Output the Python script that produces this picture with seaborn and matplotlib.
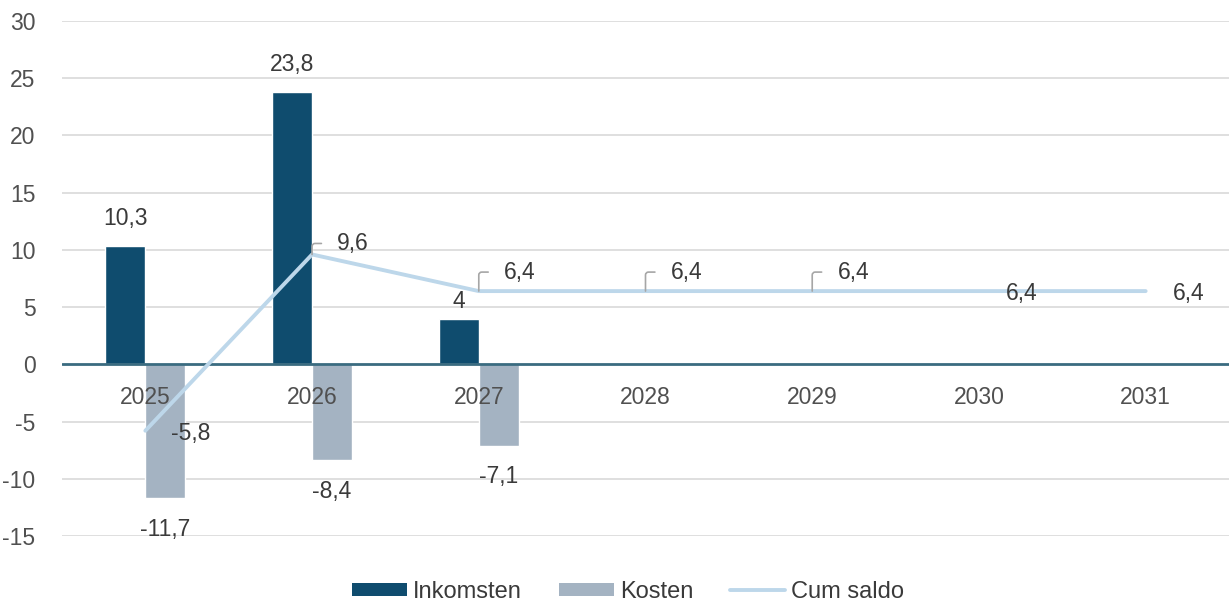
import numpy as np
import pandas as pd
import matplotlib
matplotlib.use("Agg")
import matplotlib.pyplot as plt
import seaborn as sns
from matplotlib.patches import Patch
from matplotlib.lines import Line2D

# ---- data ----
years = ["2025", "2026", "2027", "2028", "2029", "2030", "2031"]
inkomsten = [10.3, 23.8, 4.0, None, None, None, None]
kosten = [-11.7, -8.4, -7.1, None, None, None, None]
cum_saldo = [-5.8, 9.6, 6.4, 6.4, 6.4, 6.4, 6.4]
series_names = ["Inkomsten", "Kosten", "Cum saldo"]
y_ticks = [-15, -10, -5, 0, 5, 10, 15, 20, 25, 30]

C_INK = "#0F4C6E"
C_KOS = "#A4B3C2"
C_LINE = "#BDD7EA"
C_ZERO = "#3A6B80"
C_GRID = "#D9D9D9"
C_TXT = "#3A3A3A"
C_TICK = "#505050"
FS = 16.5

sns.set_theme(style="white")
plt.rcParams["font.family"] = ["Liberation Sans", "DejaVu Sans"]
plt.rcParams["axes.unicode_minus"] = False

def fmt(v):
    s = f"{v:g}"
    return s.replace(".", ",")

rows = []
for y, a, b in zip(years, inkomsten, kosten):
    if a is not None:
        rows.append({"year": y, "serie": series_names[0], "value": a})
    if b is not None:
        rows.append({"year": y, "serie": series_names[1], "value": b})
df = pd.DataFrame(rows)

fig = plt.figure(figsize=(12.29, 6.05), dpi=100)
ax = fig.add_axes([62 / 1229, 1 - 536 / 605, 1 - 62 / 1229, (536 - 21) / 605])

for t in y_ticks:
    if t != 0:
        ax.axhline(t, color=C_GRID, lw=1.2, zorder=0)

sns.barplot(data=df, x="year", y="value", hue="serie", order=years,
            hue_order=series_names[:2], palette=[C_INK, C_KOS],
            width=0.48, saturation=1, ax=ax, legend=False, zorder=2)

ax.axhline(0, color=C_ZERO, lw=2, zorder=3)

xs = np.arange(len(years))
sns.lineplot(x=xs, y=cum_saldo, color=C_LINE, lw=2.8, ax=ax, zorder=4,
             legend=False)

ax.set_xlim(-0.5, len(years) - 0.5)
ax.set_ylim(-15, 30)
ax.set_yticks(y_ticks)
ax.set_yticklabels([str(t) for t in y_ticks])
ax.tick_params(axis="y", length=0, pad=19, labelsize=FS, labelcolor=C_TICK)
ax.set_xticks([])
ax.set_xlabel("")
ax.set_ylabel("")
for s in ax.spines.values():
    s.set_visible(False)

# category labels just below the zero line
for i, y in enumerate(years):
    ax.annotate(y, xy=(i, 0), xytext=(0, -33), textcoords="offset pixels",
                ha="center", va="center", fontsize=FS, color=C_TICK,
                zorder=6)

# bar labels
ink_off = [28, 27, 17]
for k, cont in enumerate(ax.containers):
    for j, p in enumerate(cont.patches):
        h = p.get_height()
        if h is None or np.isnan(h) or h == 0:
            continue
        cx = p.get_x() + p.get_width() / 2
        if h > 0:
            dy = ink_off[j] if j < len(ink_off) else 27
        else:
            dy = -31
        ax.annotate(fmt(h), xy=(cx, h), xytext=(0, dy),
                    textcoords="offset pixels", ha="center", va="center",
                    fontsize=FS, color=C_TXT, zorder=6)

# line labels
line_off = [(45, -3, False), (41, 11, True), (41, 19, True), (41, 19, True),
            (41, 19, True), (43, -2, False), (43, -2, False)]
for i, v in enumerate(cum_saldo):
    dx, dy, leader = line_off[i]
    kw = {}
    if leader:
        kw["arrowprops"] = dict(arrowstyle="-", color="#A6A6A6", lw=1.2,
                                connectionstyle="angle,angleA=0,angleB=90,rad=3",
                                relpos=(0, 0.5), shrinkA=9, shrinkB=0)
    ax.annotate(fmt(v), xy=(i, v), xytext=(dx, dy),
                textcoords="offset pixels", ha="center", va="center",
                fontsize=FS, color=C_TXT, zorder=6, **kw)

handles = [Patch(facecolor=C_INK, edgecolor="none"),
           Patch(facecolor=C_KOS, edgecolor="none"),
           Line2D([0], [0], color=C_LINE, lw=2.8)]
fig.legend(handles, series_names, loc="center", bbox_to_anchor=(628 / 1229, 1 - 592 / 605),
           ncol=3, frameon=False, fontsize=17, handlelength=2.35, handleheight=0.5,
           handletextpad=0.25, columnspacing=1.55, labelcolor=C_TXT)

fig.savefig("out.png", dpi=100)
